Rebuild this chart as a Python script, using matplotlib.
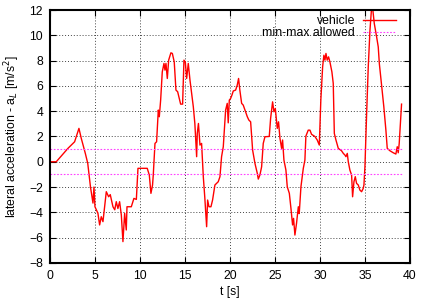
import matplotlib
matplotlib.use('Agg')
import matplotlib.pyplot as plt
import numpy as np

# lateral acceleration of the vehicle
t = [0.0, 0.7, 2.0, 2.74, 3.22, 3.48, 3.93, 4.2, 4.5, 4.78, 4.89, 5.0, 5.33, 5.52,
     5.7, 5.89, 6.07, 6.26, 6.52, 6.7, 7.0, 7.2, 7.37, 7.55, 7.74, 7.93, 8.11, 8.3,
     8.48, 8.56, 9.04, 9.33, 9.6, 9.78, 10.81, 11.04, 11.22, 11.4, 11.48, 11.67,
     11.85, 12.04, 12.15, 12.3, 12.48, 12.67, 12.78, 12.89, 13.04, 13.19, 13.44,
     13.6, 13.81, 14.0, 14.19, 14.37, 14.52, 14.74, 14.89, 15.04, 15.19, 15.37,
     15.56, 15.93, 16.1, 16.3, 16.37, 16.5, 16.67, 16.85, 17.04, 17.2, 17.41,
     17.52, 17.67, 17.89, 18.07, 18.33, 18.7, 18.89, 19.07, 19.26, 19.52, 19.7,
     19.81, 19.93, 20.07, 20.22, 20.37, 20.63, 20.81, 20.96, 21.1, 21.3, 21.48,
     21.67, 21.93, 22.1, 22.3, 22.52, 22.78, 23.04, 23.15, 23.33, 23.52, 23.7,
     23.89, 24.37, 24.52, 24.74, 24.89, 25.04, 25.26, 25.4, 25.56, 25.74, 25.85,
     26.0, 26.22, 26.37, 26.6, 26.78, 26.96, 27.07, 27.22, 27.4, 27.6, 27.7,
     27.89, 28.15, 28.33, 28.44, 28.7, 28.89, 29.07, 29.44, 29.7, 29.93, 30.1,
     30.3, 30.44, 30.56, 30.67, 30.81, 30.96, 31.11, 31.33, 31.48, 31.6, 31.78,
     32.04, 32.4, 32.6, 32.78, 32.89, 33.04, 33.15, 33.33, 33.52, 33.63, 33.78,
     33.93, 34.07, 34.26, 34.44, 34.63, 34.81, 34.89, 35.0, 35.19, 35.37, 35.56,
     35.74, 35.85, 36.04, 36.3, 36.48, 36.6, 36.85, 37.1, 37.33, 37.48, 37.78,
     38.15, 38.44, 38.59, 38.7, 38.81, 39.07]
a_lat = [0.0, 0.0, 1.06, 1.58, 2.64, 1.85, 0.66, -0.13, -1.98, -3.27, -2.0, -3.56,
         -4.08, -5.0, -4.35, -4.74, -3.56, -2.37, -2.77, -2.6, -3.56, -3.8, -3.16,
         -3.7, -3.16, -4.21, -6.32, -4.08, -5.4, -3.56, -3.56, -2.9, -2.98, -0.52,
         -0.52, -1.05, -2.5, -1.84, -1.05, 1.45, 1.58, 4.09, 3.56, 4.88, 7.11, 7.78,
         7.25, 7.78, 6.59, 8.04, 8.62, 8.57, 7.9, 5.67, 5.54, 5.01, 4.56, 4.56,
         8.04, 7.9, 6.59, 7.78, 6.46, 4.35, 3.03, 0.4, 2.24, 3.03, 1.32, 1.45,
         -1.18, -2.77, -5.14, -3.03, -3.56, -3.56, -3.03, -1.84, -1.58, -1.18, 0.4,
         1.19, 4.09, 4.62, 3.08, 4.88, 5.0, 5.27, 5.6, 5.67, 6.06, 6.59, 5.67, 4.62,
         4.48, 4.09, 3.56, 3.3, 3.16, 0.92, -0.13, -0.92, -1.37, -1.05, -0.4, 1.45,
         1.98, 2.0, 3.43, 4.74, 3.95, 4.22, 2.64, 3.16, 1.85, 1.06, 1.72, 0.13,
         -0.66, -1.98, -2.5, -3.69, -5.0, -4.48, -5.8, -4.87, -3.56, -4.1, -1.98,
         -0.53, 0.13, 2.03, 2.5, 2.5, 2.17, 2.0, 1.72, 1.32, 4.88, 7.51, 8.43, 8.04,
         8.57, 8.04, 8.3, 7.9, 7.11, 6.2, 2.24, 1.72, 1.06, 0.87, 0.66, 0.53, 0.4,
         0.66, 0.0, -0.66, -1.05, -2.77, -1.58, -1.18, -1.71, -1.84, -2.24, -2.37,
         -2.11, -1.84, -0.4, 3.82, 7.51, 10.4, 12.2, 12.2, 10.94, 9.88, 9.09, 7.78,
         6.06, 4.35, 2.5, 1.06, 0.87, 0.71, 0.61, 1.19, 0.71, 1.45, 4.56]

limit_t = [0.0, 39.07]
limit_max = 1.0
limit_min = -1.0

plt.rcParams['font.family'] = ['Liberation Sans', 'DejaVu Sans']
plt.rcParams['font.size'] = 8.8

fig = plt.figure(figsize=(4.27, 3.06), dpi=100)
ax = fig.add_axes([0.117, 0.141, 0.843, 0.826])

ax.plot(t, a_lat, color='red', lw=1.0, label='vehicle')
ax.plot(limit_t, [limit_max, limit_max], color='#ff40ff', lw=0.8, ls=(0, (1.5, 1.5)),
        label='min-max allowed')
ax.plot(limit_t, [limit_min, limit_min], color='#ff40ff', lw=0.8, ls=(0, (1.5, 1.5)))

ax.set_xlim(0, 40)
ax.set_ylim(-8, 12)
ax.set_xticks(np.arange(0, 41, 5))
ax.set_yticks(np.arange(-8, 13, 2))
ax.grid(True, color='#444444', ls=(0, (1, 2)), lw=0.7)
ax.tick_params(direction='in', top=True, right=True, length=4, width=0.8, pad=5)
for s in ax.spines.values():
    s.set_linewidth(1.5)

ax.set_xlabel('t [s]', labelpad=3)
ax.set_ylabel('lateral acceleration - a$_L$ [m/s$^2$]', labelpad=5)

ax.legend(loc='upper right', bbox_to_anchor=(0.961, 0.98), markerfirst=False,
          frameon=False, handlelength=2.7, borderaxespad=0, borderpad=0,
          labelspacing=0.0, handletextpad=0.65)

fig.savefig('out.png', dpi=100)
